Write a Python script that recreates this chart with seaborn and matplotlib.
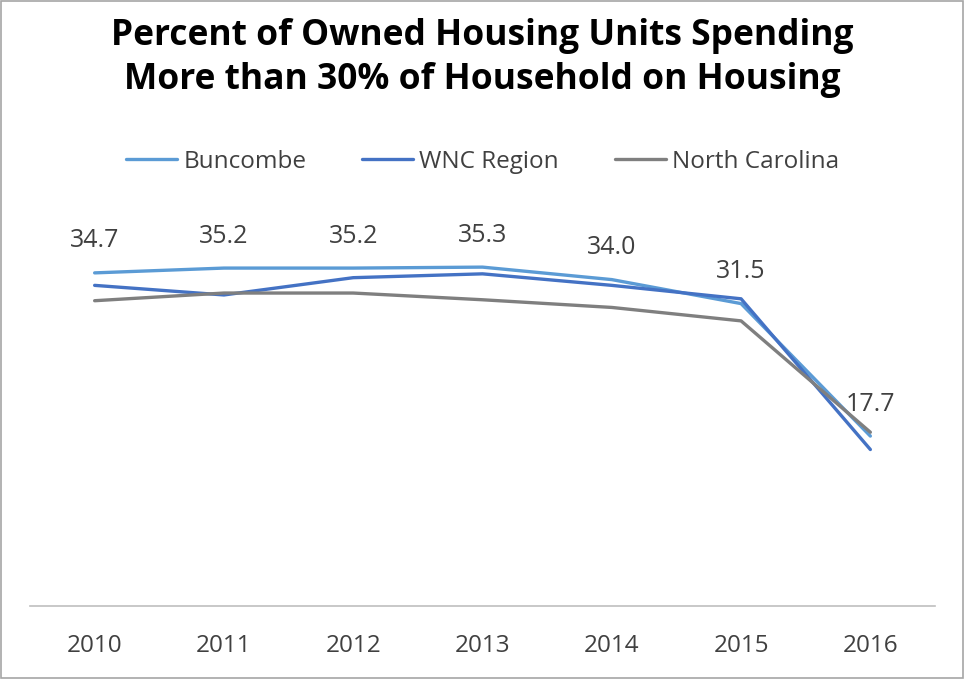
import pandas as pd
import matplotlib.pyplot as plt
import seaborn as sns
from matplotlib.patches import Rectangle

# data
years = ['2010', '2011', '2012', '2013', '2014', '2015', '2016']
buncombe = [34.7, 35.2, 35.2, 35.3, 34.0, 31.5, 17.7]
wnc_region = [33.4, 32.4, 34.2, 34.6, 33.4, 32.0, 16.3]
north_carolina = [31.8, 32.6, 32.6, 31.9, 31.1, 29.7, 18.1]
series_names = ['Buncombe', 'WNC Region', 'North Carolina']
colors = ['#5B9BD5', '#4472C4', '#7F7F7F']

rows = []
for name, vals in zip(series_names, [buncombe, wnc_region, north_carolina]):
    for i, v in enumerate(vals):
        rows.append({'pos': i, 'value': v, 'series': name})
df = pd.DataFrame(rows)

sns.set_style("white")
plt.rcParams['font.family'] = ['Open Sans', 'DejaVu Sans']

fig = plt.figure(figsize=(9.65, 6.79), dpi=100)
ax = fig.add_axes([30 / 965, 1 - 606 / 679, 905 / 965, 384 / 679])

sns.lineplot(data=df, x='pos', y='value', hue='series', hue_order=series_names,
             palette=colors, linewidth=2.4, ax=ax, legend=False)

# labels for Buncombe
for i, v in enumerate(buncombe):
    ax.annotate(f'{v:.1f}', (i, v), xytext=(0, 23), textcoords='offset points',
                ha='center', va='center', fontsize=18, color='#404040')

ax.set_xlim(-0.5, 6.5)
ax.set_ylim(0, 40)
ax.set_xticks(range(len(years)))
ax.set_xticklabels(years, fontsize=17.5, color='#404040')
ax.tick_params(axis='x', length=0, pad=20)
ax.set_yticks([])
ax.set_xlabel('')
ax.set_ylabel('')
for s in ['top', 'left', 'right']:
    ax.spines[s].set_visible(False)
ax.spines['bottom'].set_color('#BFBFBF')
ax.spines['bottom'].set_linewidth(1.2)

# legend
handles = [plt.Line2D([], [], color=c, linewidth=2.4) for c in colors]
fig.legend(handles, series_names, loc='center', bbox_to_anchor=(0.5, 1 - 162 / 679),
           ncol=3, frameon=False, fontsize=17.5, handlelength=2.1, handletextpad=0.25,
           columnspacing=2.3, labelcolor='#404040')

fig.text(0.5, 1 - 58 / 679, 'Percent of Owned Housing Units Spending\nMore than 30% of Household on Housing',
         ha='center', va='center', fontsize=25.5, fontweight='bold', color='black', linespacing=1.3)

# chart border
fig.patches.append(Rectangle((0.001, 0.002), 0.997, 0.996, transform=fig.transFigure,
                             fill=False, edgecolor='#A6A6A6', linewidth=1.2))

plt.savefig('out.png', dpi=100)
